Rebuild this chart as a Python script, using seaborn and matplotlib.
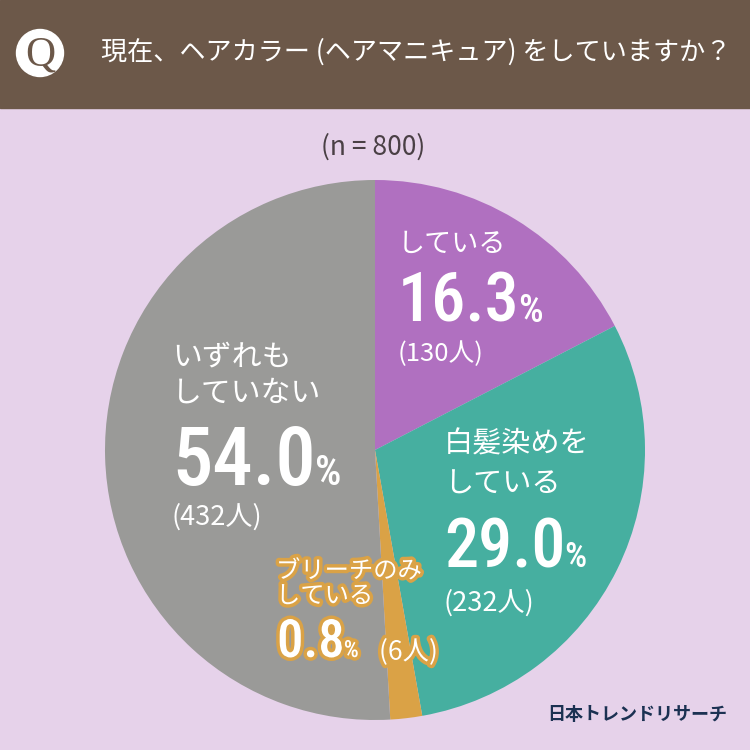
import matplotlib
matplotlib.use("Agg")
import matplotlib.pyplot as plt
import matplotlib.patheffects as pe
from matplotlib import font_manager
from matplotlib.patches import Circle, Rectangle
import seaborn as sns

# Data
categories = ["している", "白髪染めをしている", "ブリーチのみしている", "いずれもしていない"]
percents = ["16.3", "29.0", "0.8", "54.0"]
counts = ["(130人)", "(232人)", "(6人)", "(432人)"]
# slice sizes as drawn in the picture (the drawing is not exactly to scale)
slice_share = [17.4, 29.8, 1.9, 50.9]
slice_colors = ["#B070C0", "#46AFA0", "#DAA246", "#9A9A98"]

title = "現在、ヘアカラー (ヘアマニキュア) をしていますか？"
sample = "(n = 800)"
brand = "日本トレンドリサーチ"

BG = "#E6D2EA"
HEADER = "#6C5849"
NAVY = "#1B3152"

sns.set_theme(style="white")
JP = ["Noto Sans CJK JP", "DejaVu Sans"]
plt.rcParams["font.family"] = JP

names = {f.name for f in font_manager.fontManager.ttflist}
NUM = ["Roboto"]
for cand in ["Roboto Condensed", "Liberation Sans Narrow", "Open Sans Condensed"]:
    if cand in names:
        NUM = [cand]
        break
condensed = NUM[0] != "Roboto"

fig = plt.figure(figsize=(7.5, 7.5), dpi=100, facecolor=BG)
ax = fig.add_axes([0, 0, 1, 1])


def Y(y):
    return 750 - y


# header
ax.add_patch(Rectangle((0, Y(108)), 750, 108, color=HEADER, zorder=1))
ax.add_patch(Circle((40, Y(53)), 23.5, color="white", zorder=2))
ax.text(40, Y(55), "Q", family=["Liberation Serif"], fontsize=30, color=HEADER,
        ha="center", va="center", zorder=3)
ax.text(101, Y(52), title, fontsize=18.8, color="white", ha="left", va="center", zorder=3)
ax.text(373, Y(147), sample, fontsize=19, color="#4A4045", ha="center", va="center")

# pie
pal = sns.color_palette(slice_colors)
ax.pie(slice_share, colors=pal, startangle=90, counterclock=False,
       center=(375, Y(450)), radius=270, frame=True,
       wedgeprops=dict(linewidth=0))
ax.set_xlim(0, 750)
ax.set_ylim(0, 750)
ax.set_aspect("equal")
ax.axis("off")

fig.canvas.draw()
renderer = fig.canvas.get_renderer()


def big_number(x, base, num, size, psize, effects=None):
    if not condensed:
        size *= 0.9
    t = ax.text(x, Y(base), num, family=NUM, fontsize=size, weight="medium",
                color="white", ha="left", va="baseline", path_effects=effects, zorder=5)
    bb = t.get_window_extent(renderer).transformed(ax.transData.inverted())
    ax.text(bb.x1 - 1, Y(base), "%", family=NUM, fontsize=psize, weight="medium",
            color="white", ha="left", va="baseline", path_effects=effects, zorder=5)
    return bb.x1


# purple
ax.text(398, Y(244), "している", fontsize=19.5, color="white", va="center")
big_number(398, 322, percents[0], 49, 28)
ax.text(398, Y(354), counts[0], fontsize=18.5, color="white", va="center")

# teal
ax.text(444, Y(445), "白髪染めを", fontsize=21, color="white", va="center")
ax.text(444, Y(485), "している", fontsize=21, color="white", va="center")
big_number(444, 567, percents[1], 49, 25)
ax.text(444, Y(603), counts[1], fontsize=19.5, color="white", va="center")

# gray
ax.text(172, Y(357), "いずれも", fontsize=21.5, color="white", va="center")
ax.text(172, Y(393), "していない", fontsize=21.5, color="white", va="center")
big_number(172, 485, percents[3], 58, 30)
ax.text(172, Y(517), counts[3], fontsize=19.5, color="white", va="center")

# orange (outlined)
stroke = [pe.Stroke(linewidth=5, foreground=slice_colors[2]), pe.Normal()]
ax.text(276, Y(571), "ブリーチのみ", fontsize=17.5, color="white", va="center",
        path_effects=stroke, zorder=5)
ax.text(276, Y(596), "している", fontsize=17.5, color="white", va="center",
        path_effects=stroke, zorder=5)
big_number(277, 657, percents[2], 38, 17, effects=stroke)
ax.text(379, Y(652), counts[2], fontsize=19, color="white", va="center",
        path_effects=stroke, zorder=5)

# brand
ax.text(547, Y(714), brand, fontsize=13, weight="bold", color=NAVY,
        ha="left", va="center")

fig.savefig("out.png", dpi=100, facecolor=BG)
